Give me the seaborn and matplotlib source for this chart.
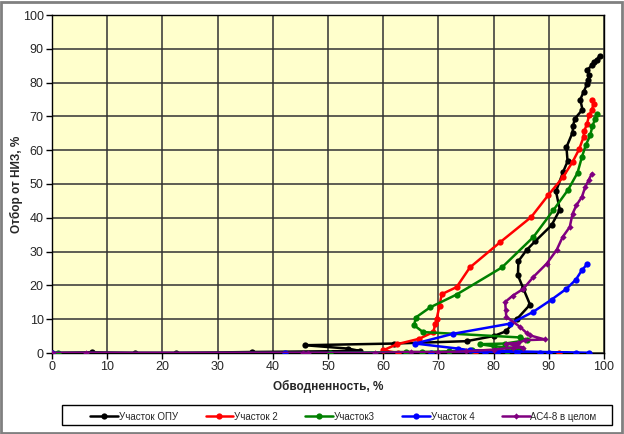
import matplotlib
matplotlib.use("Agg")
import matplotlib.pyplot as plt
import seaborn as sns
import pandas as pd
from matplotlib.patches import Rectangle

# ---- data ----
series_names = ["Участок ОПУ", "Участок 2", "Участок3", "Участок 4", "АС4-8 в целом"]

opu_x = [0, 7.2, 15, 22.5, 36.3, 55.8, 53.7, 45.8, 62, 75.1, 80, 82.2, 84.2, 86.6, 85.4, 84.4, 84.5,
         86, 87.5, 90.5, 92.0, 91.3, 92.6, 93.4, 93.2, 94.3, 94.4, 94.7, 96.1, 95.7, 96.3, 96.9,
         97.1, 97.3, 97.0, 97.8, 98.2, 98.7, 99.2]
opu_y = [0, 0.2, 0, 0, 0.3, 0.6, 1.3, 2.3, 2.8, 3.5, 5, 6.4, 10, 14.3, 19, 23, 27.2,
         30.5, 33, 37.8, 42.4, 47.8, 53.6, 56.7, 60.9, 65.2, 67.2, 69.3, 72, 75, 77.2, 79.5,
         80.7, 82.2, 83.8, 85.1, 86.1, 86.8, 87.9]

u2_x = [0, 91.8, 76.6, 62.7, 60.0, 62.5, 66.5, 69.1, 69.4, 69.7, 70.2, 70.6, 73.3, 75.7, 81.2, 86.8,
        89.9, 92.6, 94.3, 95.5, 96.3, 96.4, 96.9, 97.3, 97.8, 98.1, 97.9]
u2_y = [0, 0, 0, 0, 0.8, 2.6, 4.2, 6.2, 8.5, 10.2, 14, 17.4, 19.5, 25.3, 32.8, 40.2,
        46.7, 52.1, 56.5, 60.3, 63.9, 65.6, 67.7, 70.3, 71.8, 73.8, 75]

u3_x = [0, 1.1, 50.3, 64.2, 67.0, 72, 76, 82.4, 85.1, 80, 77.5, 82.1, 86.0, 84.8, 67.2, 65.6,
        65.9, 68.5, 73.3, 81.5, 87.2, 90.8, 93.5, 95.2, 96.0, 96.7, 97.5, 97.9, 98.4, 98.7]
u3_y = [0, 0, 0, 0.3, 0.3, 0.5, 0.8, 0.6, 1.3, 2.0, 2.6, 2.8, 3.8, 4.6, 6.2, 8.2,
        10.5, 13.5, 17.3, 25.3, 34.3, 42.2, 48.3, 53.3, 58.0, 61.5, 64.4, 67.1, 69.3, 70.8]

u4_x = [0, 42.3, 68.7, 78.4, 80.6, 84.2, 88.4, 90.0, 95.0, 97.2, 75.7, 73.6, 65.8, 72.7,
        83.0, 87.1, 90.5, 93.2, 94.9, 96.0, 96.9]
u4_y = [0, 0, 0, 0, 0, 0, 0, 0, 0, 0, 0.8, 1.3, 2.8, 5.7,
        8.7, 12.1, 15.8, 19.0, 21.7, 24.5, 26.2]

ac_x = [0, 6.2, 45.5, 46.4, 58.5, 65, 70, 75, 80, 83.6, 85.4, 84.0, 82.3, 84.5, 85.7, 89.3, 86.6,
        86.0, 84.8, 82.3, 82.2, 82.1, 83.5, 85.4, 87.2, 89.6, 91.4, 92.5, 93.8, 94.3, 95.0, 96.0,
        96.6, 97.2, 97.8]
ac_y = [0, 0, 0, 0, 0, 0.3, 0.2, 0.5, 1.0, 1.6, 1.6, 2.2, 2.8, 3.0, 3.8, 4.0, 5.2,
        5.9, 7.7, 10.7, 12.6, 15.1, 17.0, 19.0, 22.5, 26.4, 30.4, 34.3, 37.3, 41.2, 43.7, 46.2,
        49.1, 51.1, 53.1]

x_ticks = list(range(0, 101, 10))
y_ticks = list(range(0, 101, 10))

colors = ["#000000", "#FF0000", "#008000", "#0000FF", "#800080"]
markers = ["o", "o", "o", "o", "D"]
msizes = [4.5, 4.5, 4.5, 4.5, 3.2]

all_x = [opu_x, u2_x, u3_x, u4_x, ac_x]
all_y = [opu_y, u2_y, u3_y, u4_y, ac_y]

sns.set_style("white")
plt.rcParams['font.family'] = ['Liberation Sans', 'DejaVu Sans']

fig = plt.figure(figsize=(6.24, 4.34), dpi=100)
fig.patch.set_facecolor("white")
ax = fig.add_axes([52/624, 1 - 353/434, 552/624, 338/434])
ax.set_facecolor("#FFFFCC")

# later series on top, as in the reference
for i in range(5):
    df = pd.DataFrame({"x": all_x[i], "y": all_y[i]})
    sns.lineplot(data=df, x="x", y="y", ax=ax, sort=False, estimator=None,
                 color=colors[i], lw=1.8, marker=markers[i], markersize=msizes[i],
                 markeredgewidth=0, label=series_names[i], zorder=3 + i)

ax.set_xlim(0, 100)
ax.set_ylim(0, 100)
ax.set_xticks(x_ticks)
ax.set_yticks(y_ticks)
ax.grid(True, color="#333333", lw=1.3, alpha=0.85)
ax.set_axisbelow(True)
for s in ax.spines.values():
    s.set_color("black")
    s.set_linewidth(1.0)
    s.set_visible(True)
ax.tick_params(axis="both", which="both", direction="out", length=4, width=1,
               color="black", labelsize=9, pad=2, bottom=True, left=True)
ax.set_xlabel("Обводненность, %", fontsize=8.5, fontweight="bold", labelpad=5)
ax.set_ylabel("Отбор от НИЗ, %", fontsize=8.5, fontweight="bold", labelpad=0)

handles, labels = ax.get_legend_handles_labels()
order = [labels.index(n) for n in series_names]
leg = ax.legend([handles[k] for k in order], [labels[k] for k in order],
                loc="lower left", mode="expand",
                bbox_to_anchor=(86/624, 1 - 426/434, 515/624, 21/434),
                bbox_transform=fig.transFigure, ncol=5, fontsize=7, frameon=False,
                handlelength=2.8, columnspacing=1.0,
                handletextpad=0.1, borderpad=0.45, borderaxespad=0)

# legend frame box and figure border
fig.patches.append(Rectangle((62/624, 1 - 425/434), 550/624, 20/434, transform=fig.transFigure,
                             fill=False, edgecolor="black", lw=1.0))
fig.patches.append(Rectangle((0.002, 0.003), 0.994, 0.993, transform=fig.transFigure,
                             fill=False, edgecolor="#808080", lw=2.0))

fig.savefig("out.png", dpi=100)
